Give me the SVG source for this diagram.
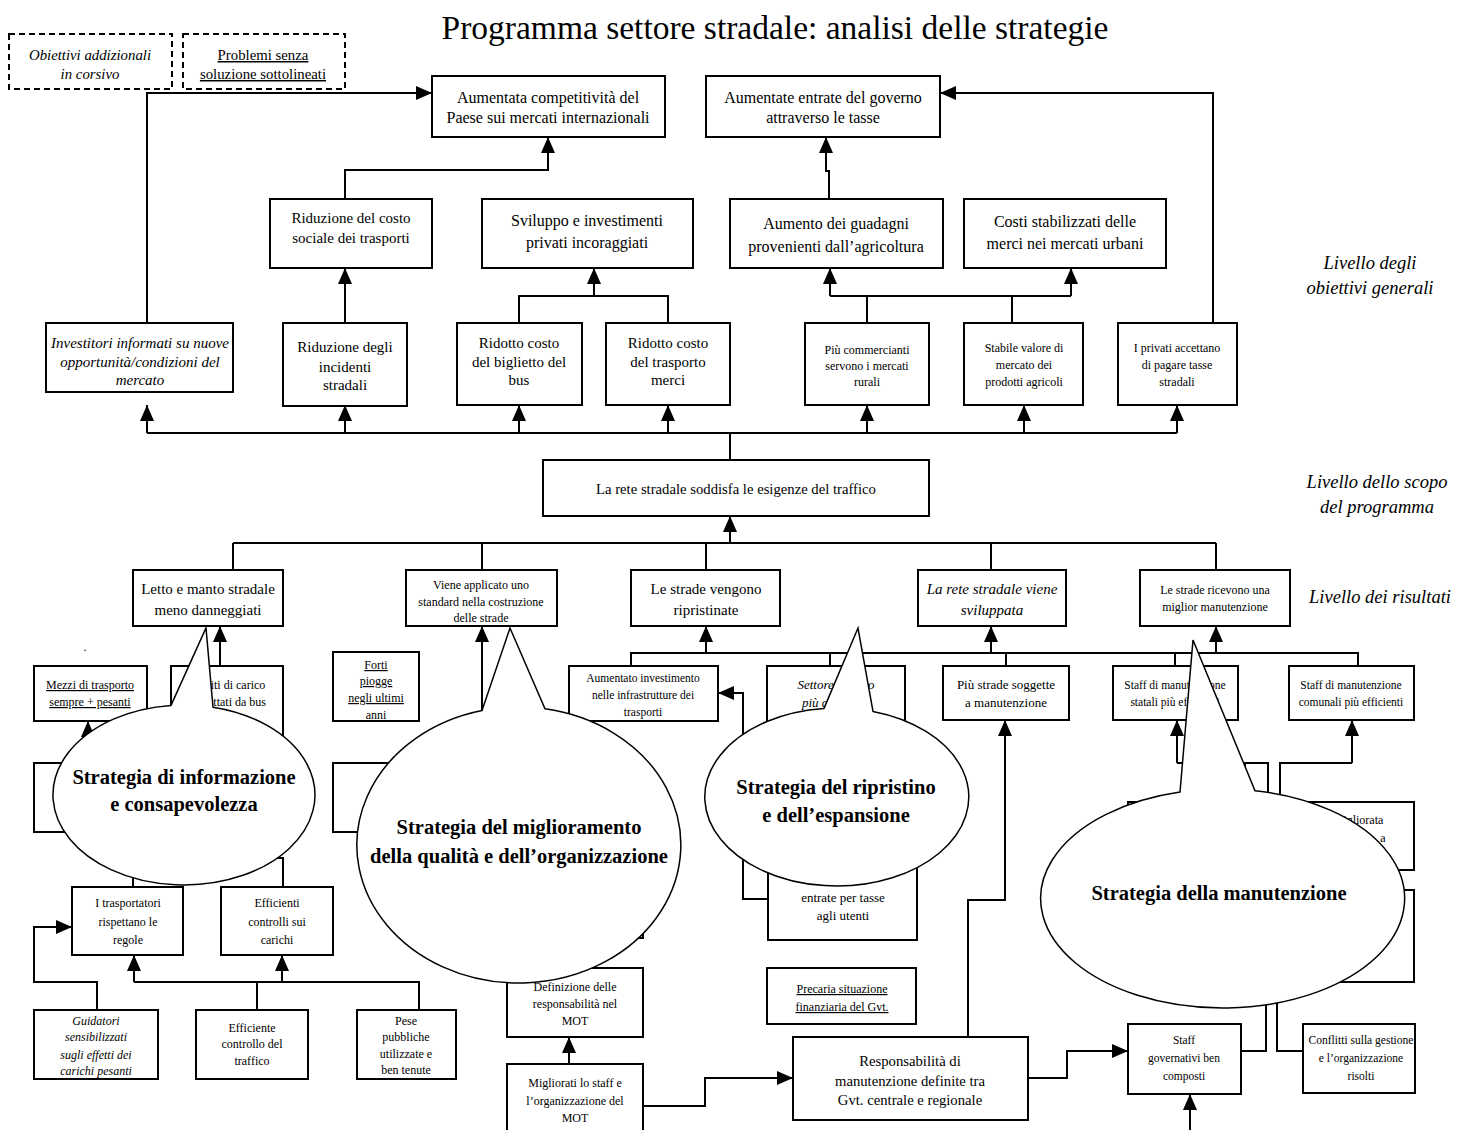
<svg xmlns="http://www.w3.org/2000/svg" width="1468" height="1130" viewBox="0 0 1468 1130">
  <style>
    .bx { fill: #fff; stroke: #000; stroke-width: 2; }
    .lg { fill: #fff; stroke: #000; stroke-width: 2; stroke-dasharray: 6 4; }
    .ln { fill: none; stroke: #000; stroke-width: 2; }
    .ar { fill: none; stroke: #000; stroke-width: 2; marker-end: url(#ah); }
    .bub { fill: #fff; stroke: #000; stroke-width: 1.5; }
    text { font-family: "Liberation Serif", "Times New Roman", serif; text-anchor: middle; fill: #000; }
    .i { font-style: italic; }
    .u { text-decoration: underline; }
    .b { font-weight: bold; font-size: 20.5px; }
    .f16 { font-size: 16px; }
    .f15 { font-size: 15px; }
    .f14 { font-size: 14.7px; }
    .f13 { font-size: 13px; }
    .f12 { font-size: 12px; }
    .f11 { font-size: 11.5px; }
    .leg { font-size: 14.8px; }
    .side { font-size: 18.5px; font-style: italic; }
  </style>
  <defs>
    <marker id="ah" markerUnits="userSpaceOnUse" markerWidth="16" markerHeight="14" viewBox="0 0 16 14" refX="16" refY="7" orient="auto">
      <path d="M0,0 L16,7 L0,14 Z" fill="#000"/>
    </marker>
  </defs>

  <!-- title -->
  <text x="775" y="39" style="font-size:33.5px">Programma settore stradale: analisi delle strategie</text>

  <!-- legend -->
  <g id="legend-corsivo">
    <rect class="lg" x="9" y="34" width="163" height="55"/>
    <text class="leg i" x="90" y="60">Obiettivi addizionali<tspan x="90" dy="19">in corsivo</tspan></text>
  </g>
  <g id="legend-sottolineati">
    <rect class="lg" x="183" y="34" width="162" height="55"/>
    <text class="leg u" x="263" y="60">Problemi senza<tspan x="263" dy="19">soluzione sottolineati</tspan></text>
  </g>

  <!-- level labels -->
  <text class="side" x="1370" y="269">Livello degli<tspan x="1370" dy="25">obiettivi generali</tspan></text>
  <text class="side" x="1377" y="488">Livello dello scopo<tspan x="1377" dy="25">del programma</tspan></text>
  <text class="side" x="1380" y="603">Livello dei risultati</text>

  <!-- connectors -->
  <g id="connectors">
    <polyline class="ar" points="147,323 147,93 432,93"/>
    <polyline class="ar" points="1213,323 1213,93 940,93"/>
    <polyline class="ar" points="345,199 345,170 548,170 548,137"/>
    <polyline class="ar" points="829,199 829,171 826,171 826,137"/>
    <polyline class="ar" points="345,323 345,268"/>
    <polyline class="ln" points="519,323 519,296 668,296 668,323"/>
    <polyline class="ar" points="594,296 594,268"/>
    <polyline class="ln" points="830,296 1071,296"/>
    <polyline class="ar" points="830,296 830,268"/>
    <polyline class="ar" points="1071,296 1071,268"/>
    <polyline class="ln" points="867,323 867,296"/>
    <polyline class="ln" points="1012,323 1012,296"/>

    <polyline class="ln" points="730,460 730,433"/>
    <polyline class="ln" points="147,433 1177,433"/>
    <polyline class="ar" points="147,433 147,405"/>
    <polyline class="ar" points="345,433 345,405"/>
    <polyline class="ar" points="519,433 519,405"/>
    <polyline class="ar" points="668,433 668,405"/>
    <polyline class="ar" points="867,433 867,405"/>
    <polyline class="ar" points="1024,433 1024,405"/>
    <polyline class="ar" points="1177,433 1177,405"/>

    <polyline class="ar" points="730,543 730,516"/>
    <polyline class="ln" points="233,543 1216,543"/>
    <polyline class="ln" points="233,543 233,570"/>
    <polyline class="ln" points="482,543 482,570"/>
    <polyline class="ln" points="706,543 706,570"/>
    <polyline class="ln" points="991,543 991,570"/>
    <polyline class="ln" points="1216,543 1216,570"/>

    <polyline class="ar" points="220,666 220,626"/>
    <polyline class="ar" points="482,730 482,626"/>
    <polyline class="ln" points="631,666 631,653 1358,653 1358,666"/>
    <polyline class="ln" points="830,653 830,666"/>
    <polyline class="ln" points="1006,653 1006,666"/>
    <polyline class="ln" points="1175,653 1175,666"/>
    <polyline class="ar" points="706,653 706,626"/>
    <polyline class="ar" points="991,653 991,626"/>
    <polyline class="ar" points="1216,653 1216,626"/>

    <polyline class="ar" points="768,899 743,899 743,693 718,693"/>
    <polyline class="ar" points="968,1037 968,900 1005,900 1005,720"/>
    <polyline class="ar" points="569,1064 569,1037"/>
    <polyline class="ar" points="643,1106 705,1106 705,1078 793,1078"/>
    <polyline class="ar" points="1028,1078 1067,1078 1067,1051 1128,1051"/>
    <polyline class="ar" points="1190,1132 1190,1094"/>
    <polyline class="ln" points="1241,1051 1266,1051 1266,990"/>
    <polyline class="ln" points="1303,1051 1277,1051 1277,990"/>
    <polyline class="ar" points="1177,763 1177,720"/>
    <polyline class="ln" points="1177,763 1268,763 1268,805"/>
    <polyline class="ln" points="1245,763 1245,805"/>
    <polyline class="ar" points="1352,763 1352,720"/>
    <polyline class="ln" points="1352,763 1280,763 1280,805"/>

    <polyline class="ar" points="97,1010 97,982 34,982 34,927 72,927"/>
    <polyline class="ln" points="134,982 419,982 419,1010"/>
    <polyline class="ar" points="134,982 134,955"/>
    <polyline class="ar" points="282,982 282,955"/>
    <polyline class="ln" points="257,1010 257,982"/>
    <polyline class="ln" points="133,887 133,850"/>
    <polyline class="ln" points="283,887 283,858 230,858"/>
    <polyline class="ar" points="88,770 88,721"/>
  </g>

  <!-- general objectives -->
  <g id="n-competitivita">
    <rect class="bx" x="432" y="76" width="233" height="61"/>
    <text class="f16" x="548" y="103">Aumentata competitività del<tspan x="548" dy="20">Paese sui mercati internazionali</tspan></text>
  </g>
  <g id="n-entrate-governo">
    <rect class="bx" x="706" y="76" width="234" height="61"/>
    <text class="f16" x="823" y="103">Aumentate entrate del governo<tspan x="823" dy="20">attraverso le tasse</tspan></text>
  </g>
  <g id="n-costo-sociale">
    <rect class="bx" x="270" y="199" width="162" height="69"/>
    <text class="f15" x="351" y="223">Riduzione del costo<tspan x="351" dy="20">sociale dei trasporti</tspan></text>
  </g>
  <g id="n-sviluppo">
    <rect class="bx" x="482" y="199" width="211" height="69"/>
    <text class="f16" x="587" y="226">Sviluppo e investimenti<tspan x="587" dy="22">privati incoraggiati</tspan></text>
  </g>
  <g id="n-guadagni">
    <rect class="bx" x="730" y="199" width="213" height="69"/>
    <text class="f16" x="836" y="229">Aumento dei guadagni<tspan x="836" dy="23">provenienti dall’agricoltura</tspan></text>
  </g>
  <g id="n-costi-stabilizzati">
    <rect class="bx" x="964" y="199" width="202" height="69"/>
    <text class="f16" x="1065" y="227">Costi stabilizzati delle<tspan x="1065" dy="22">merci nei mercati urbani</tspan></text>
  </g>

  <g id="n-investitori">
    <rect class="bx" x="46" y="323" width="187" height="69"/>
    <text class="f15 i" x="140" y="348">Investitori informati su nuove<tspan x="140" dy="19">opportunità/condizioni del</tspan><tspan x="140" dy="18">mercato</tspan></text>
  </g>
  <g id="n-incidenti">
    <rect class="bx" x="283" y="323" width="124" height="83"/>
    <text class="f15" x="345" y="352">Riduzione degli<tspan x="345" dy="20">incidenti</tspan><tspan x="345" dy="18">stradali</tspan></text>
  </g>
  <g id="n-biglietto-bus">
    <rect class="bx" x="457" y="323" width="125" height="82"/>
    <text class="f15" x="519" y="348">Ridotto costo<tspan x="519" dy="19">del biglietto del</tspan><tspan x="519" dy="18">bus</tspan></text>
  </g>
  <g id="n-trasporto-merci">
    <rect class="bx" x="606" y="323" width="124" height="82"/>
    <text class="f15" x="668" y="348">Ridotto costo<tspan x="668" dy="19">del trasporto</tspan><tspan x="668" dy="18">merci</tspan></text>
  </g>
  <g id="n-commercianti">
    <rect class="bx" x="805" y="323" width="124" height="82"/>
    <text class="f12" x="867" y="354">Più commercianti<tspan x="867" dy="16">servono i mercati</tspan><tspan x="867" dy="16">rurali</tspan></text>
  </g>
  <g id="n-valore-mercato">
    <rect class="bx" x="964" y="323" width="119" height="82"/>
    <text class="f12" x="1024" y="352">Stabile valore di<tspan x="1024" dy="17">mercato dei</tspan><tspan x="1024" dy="17">prodotti agricoli</tspan></text>
  </g>
  <g id="n-tasse-stradali">
    <rect class="bx" x="1118" y="323" width="119" height="82"/>
    <text class="f12" x="1177" y="352">I privati accettano<tspan x="1177" dy="17">di pagare tasse</tspan><tspan x="1177" dy="17">stradali</tspan></text>
  </g>

  <!-- programme purpose -->
  <g id="n-rete-esigenze">
    <rect class="bx" x="543" y="460" width="386" height="56"/>
    <text class="f14" x="736" y="494">La rete stradale soddisfa le esigenze del traffico</text>
  </g>

  <!-- results -->
  <g id="n-letto-manto">
    <rect class="bx" x="133" y="570" width="150" height="56"/>
    <text class="f15" x="208" y="594">Letto e manto stradale<tspan x="208" dy="21">meno danneggiati</tspan></text>
  </g>
  <g id="n-standard">
    <rect class="bx" x="406" y="570" width="151" height="56"/>
    <text class="f12" x="481" y="589">Viene applicato uno<tspan x="481" dy="17">standard nella costruzione</tspan><tspan x="481" dy="16">delle strade</tspan></text>
  </g>
  <g id="n-ripristinate">
    <rect class="bx" x="631" y="570" width="149" height="56"/>
    <text class="f15" x="706" y="594">Le strade vengono<tspan x="706" dy="21">ripristinate</tspan></text>
  </g>
  <g id="n-sviluppata">
    <rect class="bx" x="918" y="570" width="148" height="56"/>
    <text class="f15 i" x="992" y="594">La rete stradale viene<tspan x="992" dy="21">sviluppata</tspan></text>
  </g>
  <g id="n-manutenzione">
    <rect class="bx" x="1140" y="570" width="150" height="56"/>
    <text class="f12" x="1215" y="594">Le strade ricevono una<tspan x="1215" dy="17">miglior manutenzione</tspan></text>
  </g>

  <!-- activities / causes -->
  <text class="f12" x="85" y="651">.</text>
  <g id="n-mezzi-pesanti">
    <rect class="bx" x="34" y="666" width="113" height="55"/>
    <text class="f12 u" x="90" y="689">Mezzi di trasporto<tspan x="90" dy="17">sempre + pesanti</tspan></text>
  </g>
  <g id="n-limiti-carico">
    <rect class="bx" x="171" y="666" width="112" height="80"/>
    <text class="f12" x="228" y="689">Limiti di carico<tspan x="228" dy="17">rispettati da bus</tspan></text>
  </g>
  <g id="n-info-left">
    <rect class="bx" x="34" y="763" width="113" height="69"/>
  </g>
  <g id="n-forti-piogge">
    <rect class="bx" x="333" y="652" width="86" height="69"/>
    <text class="f12 u" x="376" y="669">Forti<tspan x="376" dy="16">piogge</tspan><tspan x="376" dy="17">negli ultimi</tspan><tspan x="376" dy="17">anni</tspan></text>
  </g>
  <g id="n-qualita-left">
    <rect class="bx" x="333" y="763" width="110" height="69"/>
  </g>
  <g id="n-qualita-right">
    <rect class="bx" x="520" y="870" width="123" height="68"/>
  </g>
  <g id="n-aumentato-investimento">
    <rect class="bx" x="569" y="666" width="149" height="55"/>
    <text class="f11" x="643" y="682">Aumentato investimento<tspan x="643" dy="17">nelle infrastrutture dei</tspan><tspan x="643" dy="17">trasporti</tspan></text>
  </g>
  <g id="n-settore-privato">
    <rect class="bx" x="767" y="666" width="138" height="80"/>
    <text class="f13 i" x="836" y="689">Settore privato<tspan x="836" dy="18">più coinvolto</tspan></text>
  </g>
  <g id="n-entrate-tasse">
    <rect class="bx" x="768" y="770" width="149" height="170"/>
    <text class="f13" x="843" y="902">entrate per tasse<tspan x="843" dy="18">agli utenti</tspan></text>
  </g>
  <g id="n-piu-strade">
    <rect class="bx" x="943" y="666" width="126" height="54"/>
    <text class="f13" x="1006" y="689">Più strade soggette<tspan x="1006" dy="18">a manutenzione</tspan></text>
  </g>
  <g id="n-staff-statali">
    <rect class="bx" x="1113" y="666" width="125" height="54"/>
    <text class="f11" x="1175" y="689">Staff di manutenzione<tspan x="1175" dy="17">statali più efficienti</tspan></text>
  </g>
  <g id="n-staff-comunali">
    <rect class="bx" x="1289" y="666" width="125" height="54"/>
    <text class="f11" x="1351" y="689">Staff di manutenzione<tspan x="1351" dy="17">comunali più efficienti</tspan></text>
  </g>
  <g id="n-manut-left">
    <rect class="bx" x="1128" y="802" width="112" height="68"/>
  </g>
  <g id="n-migliorata">
    <rect class="bx" x="1290" y="802" width="124" height="68"/>
    <text class="f12" x="1358" y="824">Migliorata<tspan x="1383" dy="18">a</tspan></text>
  </g>
  <g id="n-manut-right">
    <rect class="bx" x="1300" y="890" width="114" height="92"/>
  </g>

  <g id="n-trasportatori">
    <rect class="bx" x="72" y="887" width="111" height="68"/>
    <text class="f12" x="128" y="907">I trasportatori<tspan x="128" dy="19">rispettano le</tspan><tspan x="128" dy="18">regole</tspan></text>
  </g>
  <g id="n-controlli-carichi">
    <rect class="bx" x="221" y="887" width="112" height="68"/>
    <text class="f12" x="277" y="907">Efficienti<tspan x="277" dy="19">controlli sui</tspan><tspan x="277" dy="18">carichi</tspan></text>
  </g>
  <g id="n-guidatori">
    <rect class="bx" x="34" y="1010" width="124" height="69"/>
    <text class="f12 i" x="96" y="1025">Guidatori<tspan x="96" dy="16">sensibilizzati</tspan><tspan x="96" dy="18">sugli effetti dei</tspan><tspan x="96" dy="16">carichi pesanti</tspan></text>
  </g>
  <g id="n-controllo-traffico">
    <rect class="bx" x="196" y="1010" width="112" height="69"/>
    <text class="f12" x="252" y="1032">Efficiente<tspan x="252" dy="16">controllo del</tspan><tspan x="252" dy="17">traffico</tspan></text>
  </g>
  <g id="n-pese-pubbliche">
    <rect class="bx" x="357" y="1010" width="99" height="69"/>
    <text class="f12" x="406" y="1025">Pese<tspan x="406" dy="16">pubbliche</tspan><tspan x="406" dy="17">utilizzate e</tspan><tspan x="406" dy="16">ben tenute</tspan></text>
  </g>
  <g id="n-definizione-mot">
    <rect class="bx" x="507" y="968" width="136" height="69"/>
    <text class="f12" x="575" y="991">Definizione delle<tspan x="575" dy="17">responsabilità nel</tspan><tspan x="575" dy="17">MOT</tspan></text>
  </g>
  <g id="n-migliorati-mot">
    <rect class="bx" x="507" y="1064" width="136" height="70"/>
    <text class="f12" x="575" y="1087">Migliorati lo staff e<tspan x="575" dy="18">l’organizzazione del</tspan><tspan x="575" dy="17">MOT</tspan></text>
  </g>
  <g id="n-precaria">
    <rect class="bx" x="767" y="968" width="149" height="56"/>
    <text class="f12 u" x="842" y="993">Precaria situazione<tspan x="842" dy="18">finanziaria del Gvt.</tspan></text>
  </g>
  <g id="n-responsabilita">
    <rect class="bx" x="793" y="1037" width="235" height="83"/>
    <text class="f14" x="910" y="1066">Responsabilità di<tspan x="910" dy="20">manutenzione definite tra</tspan><tspan x="910" dy="19">Gvt. centrale e regionale</tspan></text>
  </g>
  <g id="n-staff-governativi">
    <rect class="bx" x="1128" y="1024" width="113" height="70"/>
    <text class="f11" x="1184" y="1044">Staff<tspan x="1184" dy="18">governativi ben</tspan><tspan x="1184" dy="18">composti</tspan></text>
  </g>
  <g id="n-conflitti">
    <rect class="bx" x="1303" y="1024" width="112" height="69"/>
    <text class="f11" x="1361" y="1044">Conflitti sulla gestione<tspan x="1361" dy="18">e l’organizzazione</tspan><tspan x="1361" dy="18">risolti</tspan></text>
  </g>

  <!-- strategy callouts -->
  <g id="s-informazione">
    <path class="bub" d="M171,705.4 L206,628 L213,707.2 A131,90 0 1 1 171,705.4 Z"/>
    <text class="b" x="184" y="784">Strategia di informazione<tspan x="184" dy="27">e consapevolezza</tspan></text>
  </g>
  <g id="s-qualita">
    <path class="bub" d="M482,710.6 L510,628 L545,708.8 A162,138 0 1 1 482,710.6 Z"/>
    <text class="b" x="519" y="834">Strategia del miglioramento<tspan x="519" dy="29">della qualità e dell’organizzazione</tspan></text>
  </g>
  <g id="s-ripristino">
    <path class="bub" d="M824,708.4 L858,628 L873,711.4 A132,89 0 1 1 824,708.4 Z"/>
    <text class="b" x="836" y="794">Strategia del ripristino<tspan x="836" dy="28">e dell’espansione</tspan></text>
  </g>
  <g id="s-manutenzione">
    <path class="bub" d="M1180,792 L1193,640 L1255,790.7 A182,109.5 0 1 1 1180,792 Z"/>
    <text class="b" x="1219" y="900">Strategia della manutenzione</text>
  </g>
</svg>
